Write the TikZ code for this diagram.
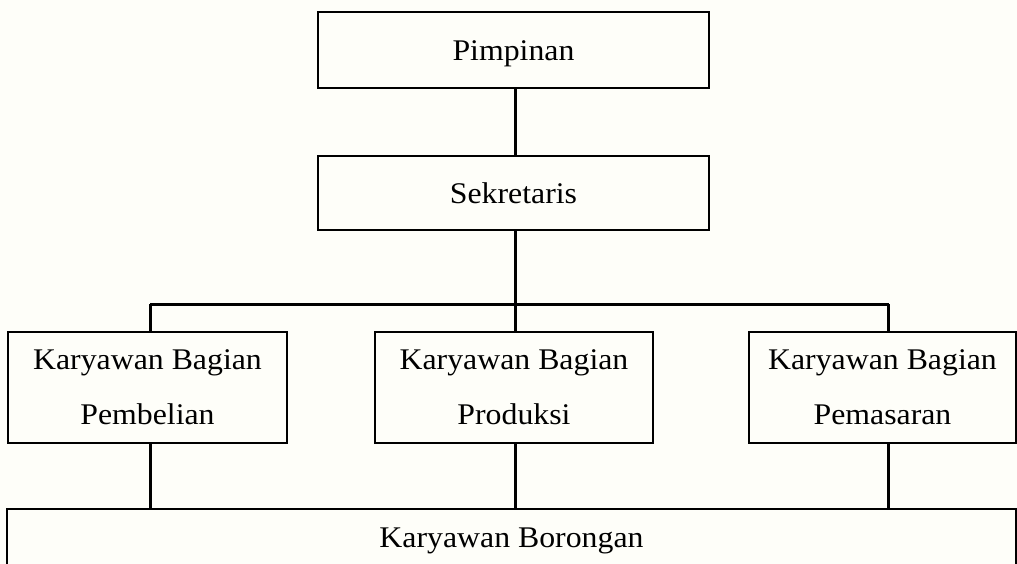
\documentclass[tikz,border=0pt]{standalone}
\usepackage{fontspec}
\setmainfont{Liberation Serif}[FakeStretch=1.06]
\definecolor{bg}{RGB}{254,254,249}
\begin{document}
\begin{tikzpicture}[x=1pt,y=-1pt,
  box/.style={draw=black,rectangle,inner sep=0pt,fill=bg,align=center,
    font=\fontsize{30}{55}\selectfont},
  topbox/.style={box,line width=2.5pt,minimum width=391pt},
  unitbox/.style={box,line width=1.3pt,minimum height=111pt},
  conn/.style={draw=black,line width=3pt}]
\fill[bg] (0,0) rectangle (1017,564);
\useasboundingbox (0,0) rectangle (1017,564);

\node[topbox,minimum height=76pt,text height=22pt,text depth=0pt] (pim) at (513.5,50) {Pimpinan};
\node[topbox,minimum height=74pt] (sek) at (513.5,193) {Sekretaris};

\node[unitbox,minimum width=279pt] (beli) at (147.5,387.5) {Karyawan Bagian\\Pembelian};
\node[unitbox,minimum width=278pt] (prod) at (514,387.5) {Karyawan Bagian\\Produksi};
\node[unitbox,minimum width=267pt] (pasar) at (882.5,387.5) {Karyawan Bagian\\Pemasaran};

\node[box,line width=1.3pt,minimum width=1009pt,minimum height=64.5pt] (bor) at (511.5,541.25) {Karyawan Borongan};

\coordinate (jl) at (150,304);
\coordinate (jm) at (515.5,304);
\coordinate (jr) at (888.5,304);

\draw[conn] (jm |- pim.south) -- (jm |- sek.north);
\draw[conn] (jm |- sek.south) -- (jm);
\draw[conn] (jl) -- (jr);
\draw[conn] (jl) -- (jl |- beli.north);
\draw[conn] (jm) -- (jm |- prod.north);
\draw[conn] (jr) -- (jr |- pasar.north);
\draw[conn] (jl |- beli.south) -- (jl |- bor.north);
\draw[conn] (jm |- prod.south) -- (jm |- bor.north);
\draw[conn] (jr |- pasar.south) -- (jr |- bor.north);
\end{tikzpicture}
\end{document}
